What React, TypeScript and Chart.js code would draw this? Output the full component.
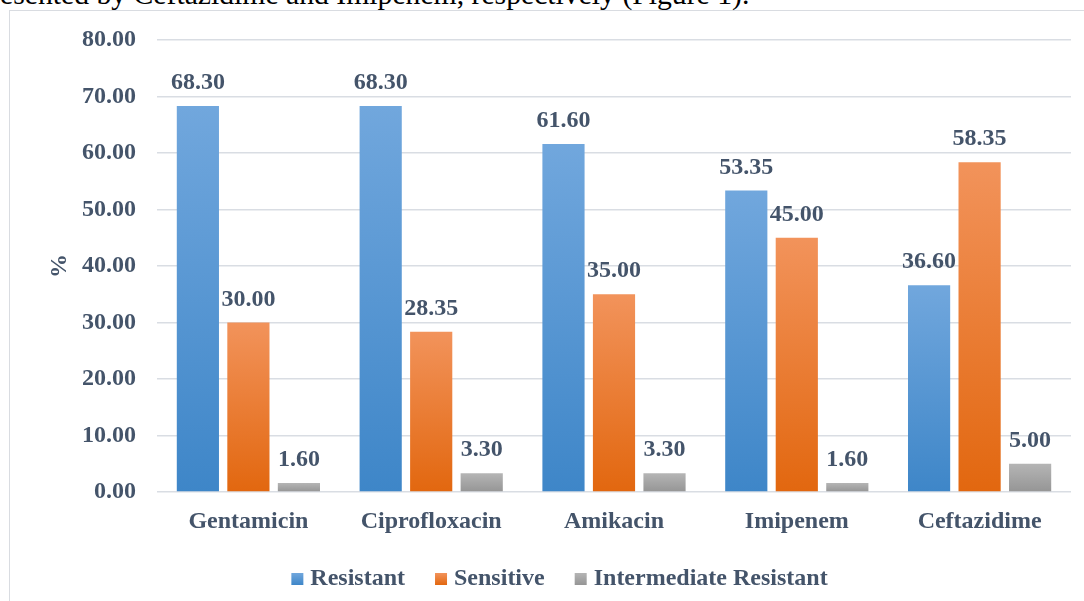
import React, { useEffect, useRef } from "react";
import { Chart, registerables } from "chart.js";

Chart.register(...registerables);

const categories = ["Gentamicin", "Ciprofloxacin", "Amikacin", "Imipenem", "Ceftazidime"];
const seriesNames = ["Resistant", "Sensitive", "Intermediate Resistant"];
const resistant = [68.3, 68.3, 61.6, 53.35, 36.6];
const sensitive = [30.0, 28.35, 35.0, 45.0, 58.35];
const intermediate = [1.6, 3.3, 3.3, 1.6, 5.0];
const yMin = 0;
const yMax = 80;
const yStep = 10;
const yTitle = "%";
const captionText = "esented by Ceftazidime and Imipenem, respectively (Figure 1).";

const FONT = '"Liberation Serif", "Times New Roman", serif';
const TEXT_COLOR = "#44546A";

const palette = [
  { top: "#71A7DD", bottom: "#3E86C8", mid: "#5B9BD5" },
  { top: "#F2935B", bottom: "#E2670F", mid: "#ED7D31" },
  { top: "#B5B5B5", bottom: "#959595", mid: "#A5A5A5" },
];

function barGradient(p: { top: string; bottom: string; mid: string }) {
  return (c: any) => {
    const chart = c.chart;
    const y = chart.scales && chart.scales.y;
    if (c.type !== "data" || !y || !chart.chartArea || typeof c.raw !== "number") return p.mid;
    const yTop = y.getPixelForValue(c.raw);
    const yBot = y.getPixelForValue(0);
    if (!isFinite(yTop) || !isFinite(yBot) || Math.abs(yBot - yTop) < 0.5) return p.bottom;
    const g = chart.ctx.createLinearGradient(0, yTop, 0, yBot);
    g.addColorStop(0, p.top);
    g.addColorStop(1, p.bottom);
    return g;
  };
}

const dataLabelPlugin = {
  id: "dataLabels",
  afterDatasetsDraw(chart: any) {
    const ctx = chart.ctx;
    ctx.save();
    ctx.font = `bold 24px ${FONT}`;
    ctx.fillStyle = TEXT_COLOR;
    ctx.textAlign = "center";
    ctx.textBaseline = "alphabetic";
    chart.data.datasets.forEach((ds: any, i: number) => {
      const meta = chart.getDatasetMeta(i);
      meta.data.forEach((bar: any, j: number) => {
        const v = ds.data[j];
        ctx.fillText(Number(v).toFixed(2), bar.x, bar.y - 17);
      });
    });
    ctx.restore();
  },
};

// Legend drawn below the x axis: small square + label, centred in the layout box
const legendPlugin = {
  id: "customLegend",
  afterDraw(chart: any) {
    const ctx = chart.ctx;
    const pad = chart.options.layout.padding;
    const left = pad.left;
    const right = chart.width - pad.right;
    const box = 12;
    const gapText = 7;
    const gapItem = 30;
    const baseline = chart.height - 25;
    ctx.save();
    ctx.font = `bold 24px ${FONT}`;
    ctx.textBaseline = "alphabetic";
    ctx.textAlign = "left";
    const items = chart.data.datasets.map((ds: any, i: number) => ({
      text: ds.label,
      w: ctx.measureText(ds.label).width,
      p: palette[i],
    }));
    const total =
      items.reduce((s: number, it: any) => s + box + gapText + it.w, 0) + gapItem * (items.length - 1);
    let x = (left + right) / 2 - total / 2;
    items.forEach((it: any) => {
      const by = baseline - box;
      const g = ctx.createLinearGradient(0, by, 0, by + box);
      g.addColorStop(0, it.p.top);
      g.addColorStop(1, it.p.bottom);
      ctx.fillStyle = g;
      ctx.fillRect(x, by, box, box);
      ctx.fillStyle = TEXT_COLOR;
      ctx.fillText(it.text, x + box + gapText, baseline);
      x += box + gapText + it.w + gapItem;
    });
    ctx.restore();
  },
};

export default function App() {
  const ref = useRef<HTMLCanvasElement | null>(null);

  useEffect(() => {
    if (!ref.current) return;
    const seriesData = [resistant, sensitive, intermediate];
    const chart = new Chart(ref.current, {
      type: "bar",
      data: {
        labels: categories,
        datasets: seriesData.map((d, i) => ({
          label: seriesNames[i],
          data: d,
          backgroundColor: barGradient(palette[i]) as any,
          borderWidth: 0,
          categoryPercentage: 0.829,
          barPercentage: 0.835,
        })),
      },
      options: {
        responsive: false,
        animation: false,
        layout: { padding: { left: 38, right: 39, top: 29, bottom: 74 } },
        plugins: {
          tooltip: { enabled: false },
          title: { display: false },
          legend: { display: false },
        },
        scales: {
          x: {
            grid: { display: false, drawTicks: false },
            border: { display: false },
            ticks: {
              font: { family: FONT, size: 24, weight: "bold" },
              color: TEXT_COLOR,
              padding: 15,
              maxRotation: 0,
              autoSkip: false,
            },
            afterFit: (scale: any) => {
              scale.height = 44;
            },
          },
          y: {
            min: yMin,
            max: yMax,
            grid: { color: "#D9DDE3", lineWidth: 1.5, drawTicks: false },
            border: { display: false },
            ticks: {
              stepSize: yStep,
              font: { family: FONT, size: 24, weight: "bold", lineHeight: 0.5 },
              color: TEXT_COLOR,
              padding: 21,
              callback: (v: any) => Number(v).toFixed(2),
            },
            title: {
              display: true,
              text: yTitle,
              font: { family: FONT, size: 24, weight: "bold", lineHeight: 1 },
              color: TEXT_COLOR,
              padding: 0,
            },
            afterFit: (scale: any) => {
              scale.width = 109;
            },
          },
        },
      },
      plugins: [dataLabelPlugin, legendPlugin],
    });
    return () => chart.destroy();
  }, []);

  return (
    <div style={{ position: "fixed", inset: 0, overflow: "hidden", background: "#fff" }}>
      <div
        style={{
          position: "absolute",
          left: 9,
          top: 10,
          width: 1100,
          height: 599,
          borderLeft: "1px solid #D9DCE1",
          borderTop: "1px solid #D9DCE1",
          background: "#fff",
        }}
      >
        <canvas ref={ref} width={1100} height={599} style={{ display: "block" }} />
      </div>
      <div
        style={{
          position: "absolute",
          left: 0,
          top: -21,
          fontFamily: FONT,
          fontSize: 29.7,
          lineHeight: "30px",
          whiteSpace: "nowrap",
          color: "#000",
        }}
      >
        {captionText}
      </div>
    </div>
  );
}
